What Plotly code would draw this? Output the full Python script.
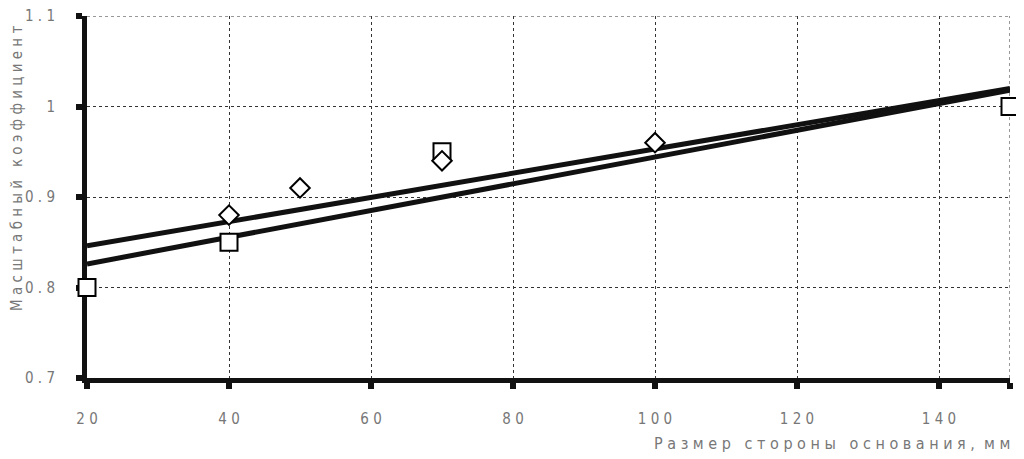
import plotly.graph_objects as go

# data
diamond_x = [40, 50, 70, 100]
diamond_y = [0.88, 0.91, 0.94, 0.96]
square_x = [20, 40, 70, 150]
square_y = [0.80, 0.85, 0.95, 1.00]
upper_line_x = [20, 150]
upper_line_y = [0.846, 1.020]
lower_line_x = [20, 150]
lower_line_y = [0.826, 1.018]

x_range = [20, 150]
y_range = [0.7, 1.1]
x_tickvals = [20, 40, 60, 80, 100, 120, 140, 150]
x_ticktext = ["2 0", "4 0", "6 0", "8 0", "1 0 0", "1 2 0", "1 4 0", ""]
y_tickvals = [0.7, 0.8, 0.9, 1.0, 1.1]
y_ticktext = ["0 . 7", "0 . 8", "0 . 9", "1", "1 . 1"]

FONT = "Liberation Sans Narrow, DejaVu Sans Condensed, Roboto, sans-serif"
GRAY = "#777777"
GRID = "#333333"

fig = go.Figure()
fig.add_trace(go.Scatter(x=upper_line_x, y=upper_line_y, mode="lines",
                         line=dict(color="#111111", width=5), hoverinfo="skip"))
fig.add_trace(go.Scatter(x=lower_line_x, y=lower_line_y, mode="lines",
                         line=dict(color="#111111", width=5), hoverinfo="skip"))
fig.add_trace(go.Scatter(x=square_x, y=square_y, mode="markers",
                         marker=dict(symbol="square", size=17, color="white",
                                     line=dict(color="black", width=2)),
                         cliponaxis=False))
fig.add_trace(go.Scatter(x=diamond_x, y=diamond_y, mode="markers",
                         marker=dict(symbol="diamond", size=15, color="white",
                                     line=dict(color="black", width=2)),
                         cliponaxis=False))

# edge gridlines (at the far ends of the axis ranges)
fig.add_shape(type="line", xref="x", yref="y", x0=x_range[1], x1=x_range[1],
              y0=y_range[0], y1=y_range[1], layer="below",
              line=dict(color=GRID, width=1, dash="dot"))
fig.add_shape(type="line", xref="x", yref="y", x0=x_range[0], x1=x_range[1],
              y0=y_range[1], y1=y_range[1], layer="below",
              line=dict(color=GRID, width=1, dash="dot"))

# the page body has an 8px margin, so the figure is sized/offset to compensate
fig.update_layout(
    width=1016, height=451,
    margin=dict(l=79, r=14, t=8, b=81),
    paper_bgcolor="white", plot_bgcolor="white",
    showlegend=False,
    font=dict(family=FONT, color=GRAY, size=15),
    xaxis=dict(range=x_range, tickvals=x_tickvals, ticktext=x_ticktext,
               showline=True, linecolor="#111111", linewidth=5,
               ticks="outside", ticklen=6, tickwidth=6, tickcolor="#111111",
               showgrid=True, gridcolor=GRID, gridwidth=1, griddash="dot",
               zeroline=False, layer="below traces", ticklabelstandoff=17,
               automargin=False, ticklabeloverflow="allow",
               tickfont=dict(family=FONT, color=GRAY, size=15)),
    yaxis=dict(range=y_range, tickvals=y_tickvals, ticktext=y_ticktext,
               showline=True, linecolor="#111111", linewidth=5,
               ticks="outside", ticklen=6, tickwidth=6, tickcolor="#111111",
               showgrid=True, gridcolor=GRID, gridwidth=1, griddash="dot",
               zeroline=False, layer="below traces", ticklabelstandoff=18,
               automargin=False, ticklabeloverflow="allow",
               tickfont=dict(family=FONT, color=GRAY, size=15)),
    annotations=[
        dict(text="М а с ш т а б н ы й   к о э ф ф и ц и е н т",
             xref="paper", yref="paper", x=-0.076, y=0.58, textangle=-90,
             showarrow=False, xanchor="center", yanchor="middle",
             font=dict(family=FONT, color=GRAY, size=15)),
        dict(text="Р а з м е р   с т о р о н ы   о с н о в а н и я ,  м м",
             xref="paper", yref="paper", x=1.002, y=-0.18,
             showarrow=False, xanchor="right", yanchor="middle",
             font=dict(family=FONT, color=GRAY, size=16)),
    ],
)

fig.write_html("out.html")
